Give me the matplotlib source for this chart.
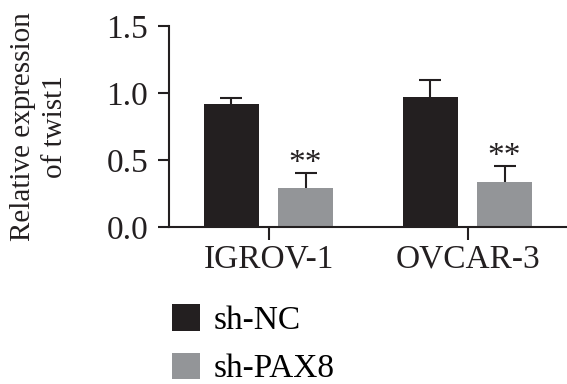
import matplotlib
matplotlib.use('Agg')
import matplotlib.pyplot as plt
import numpy as np

# Data
cell_lines = ['IGROV-1', 'OVCAR-3']
groups = ['sh-NC', 'sh-PAX8']
nc_mean = [0.915, 0.972]
nc_err = [0.05, 0.127]
pax8_mean = [0.289, 0.338]
pax8_err = [0.114, 0.119]
stars = ['**', '**']

dark = '#231f20'
grey = '#939598'
fs = 24

plt.rcParams['font.family'] = ['Liberation Serif', 'DejaVu Serif']

fig = plt.figure(figsize=(5.67, 3.84), dpi=100)
ax = fig.add_axes([169 / 567, 1 - 227 / 384, 398 / 567, 201 / 384])

x = np.arange(len(cell_lines))
width = 0.28
offset = 0.186

b1 = ax.bar(x - offset, nc_mean, width, color=dark, label=groups[0], zorder=2)
b2 = ax.bar(x + offset, pax8_mean, width, color=grey, label=groups[1], zorder=2)

# upper error bars only
for xs, ys, es in [(x - offset, nc_mean, nc_err), (x + offset, pax8_mean, pax8_err)]:
    _, caps, _ = ax.errorbar(xs, ys, yerr=[np.zeros(len(es)), es], fmt='none',
                             ecolor=dark, elinewidth=1.5, capsize=8, capthick=1.5, zorder=3)
    for c in caps:
        if np.allclose(c.get_ydata(), ys):
            c.set_visible(False)

# significance marks
for xi, y, e, s in zip(x + offset, pax8_mean, pax8_err, stars):
    ax.text(xi, y + e - 0.045, s, ha='center', va='bottom', fontsize=fs, color=dark)

ax.set_xlim(-0.5, 1.5)
ax.set_ylim(0, 1.5)
ax.set_yticks([0.0, 0.5, 1.0, 1.5])
ax.set_yticklabels(['0.0', '0.5', '1.0', '1.5'])
ax.set_xticks(x)
ax.set_xticklabels(cell_lines)

ax.spines['top'].set_visible(False)
ax.spines['right'].set_visible(False)
for sp in ['left', 'bottom']:
    ax.spines[sp].set_linewidth(1.5)
    ax.spines[sp].set_color(dark)
ax.tick_params(axis='both', width=1.5, color=dark, labelsize=fs, labelcolor=dark)
ax.tick_params(axis='y', length=8, pad=7)
ax.tick_params(axis='x', length=9, pad=3)

ax.set_ylabel('Relative expression\nof twist1', fontsize=21, color=dark, linespacing=1.3)
ax.yaxis.set_label_coords(-0.254, 0.5)

fig.legend(handles=[b1, b2], loc='upper left', bbox_to_anchor=(162 / 567, 1 - 294 / 384),
           frameon=False, fontsize=fs, handlelength=0.85, handleheight=0.85,
           handletextpad=0.4, labelspacing=0.5, borderaxespad=0, borderpad=0.3)

fig.savefig('out.png', dpi=100)
